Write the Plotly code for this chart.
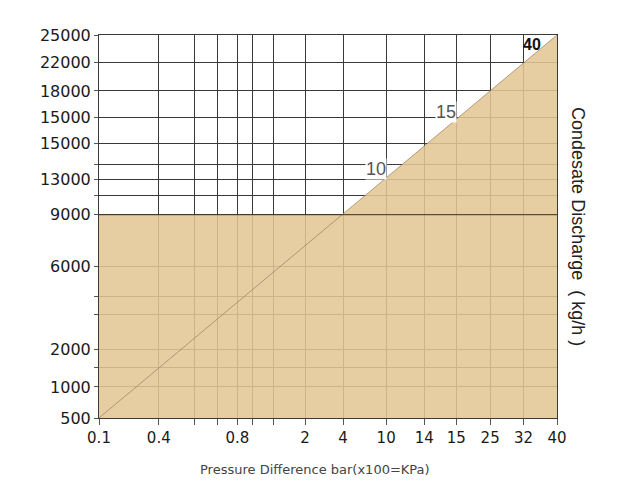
import plotly.graph_objects as go

# x axis: pressure difference (bar), positions on the chart's own scale (0-100)
x_pos = [0, 13.05, 20.8, 25.8, 30.2, 33.5, 38.2, 45.0, 53.3, 62.7, 71.0, 78.0, 85.4, 92.7, 100]
x_labels = ["0.1", "0.4", "", "", "0.8", "", "", "2", "4", "10", "14", "15", "25", "32", "40"]

# y axis: condensate discharge (kg/h)
y_pos = [0, 8.1, 13.3, 17.9, 27.0, 31.6, 39.5, 53.1, 58.2, 62.4, 66.3, 71.7, 78.4, 85.4, 92.9, 100]
y_labels = ["500", "1000", "", "2000", "", "", "6000", "9000", "", "13000", "", "15000",
            "15000", "18000", "22000", "25000"]

# capacity curve (0.1 bar / 500 kg/h  ->  40 bar / 25000 kg/h) and the 9000 kg/h limit
curve_x = [0, 100]
curve_y = [0, 100]
limit_y = 53.1

# orifice labels along the curve
orifice_labels = ["10", "15", "40"]
orifice_x = [60.5, 75.7, 94.5]
orifice_y = [65.0, 80.0, 97.4]

tan = "rgba(226,199,148,0.87)"
grid = "#3a3a3a"

fig = go.Figure()

# shaded area: everything under the curve or under the limit line
fill_x = [curve_x[0], curve_x[0], limit_y, curve_x[1], curve_x[1]]
fill_y = [curve_y[0], limit_y, limit_y, curve_y[1], curve_y[0]]
fig.add_trace(go.Scatter(x=fill_x, y=fill_y, fill="toself", fillcolor=tan,
                         mode="none", hoverinfo="skip", showlegend=False))

fig.add_trace(go.Scatter(x=curve_x, y=curve_y, mode="lines",
                         line=dict(color="rgba(150,125,90,0.7)", width=1),
                         hoverinfo="skip", showlegend=False))

fig.add_trace(go.Scatter(x=[0, 100], y=[limit_y, limit_y], mode="lines",
                         line=dict(color="rgba(60,50,40,0.8)", width=1.2),
                         hoverinfo="skip", showlegend=False))

for i, t in enumerate(orifice_labels):
    last = (t == "40")
    fig.add_annotation(x=orifice_x[i], y=orifice_y[i], text=f"<b>{t}</b>" if last else t,
                       showarrow=False, bgcolor="rgba(0,0,0,0)" if last else "white", borderpad=0,
                       font=dict(family="Liberation Sans", size=16 if last else 18,
                                 color="#111" if last else "#555"))

fig.add_annotation(x=1.073, y=0.50, xref="paper", yref="paper", text="Condesate Discharge  ( kg/h )",
                   textangle=90, showarrow=False,
                   font=dict(family="Liberation Sans", size=18, color="#222"))

fig.add_annotation(x=0.472, y=-0.11, xref="paper", yref="paper", yanchor="top",
                   text="Pressure Difference bar(x100=KPa)", showarrow=False,
                   font=dict(family="DejaVu Sans", size=13, color="#444"))

fig.update_xaxes(range=[0, 100], tickmode="array", tickvals=x_pos, ticktext=x_labels,
                 showgrid=True, gridcolor=grid, gridwidth=1, zeroline=False,
                 showline=True, linecolor=grid, linewidth=1, mirror=True,
                 ticks="outside", ticklen=6, tickcolor="#555", ticklabelstandoff=0,
                 tickfont=dict(family="DejaVu Sans", size=15, color="#1a1a1a"),
                 layer="below traces", fixedrange=True)
fig.update_yaxes(range=[0, 100], tickmode="array", tickvals=y_pos, ticktext=y_labels,
                 showgrid=True, gridcolor=grid, gridwidth=1, zeroline=False,
                 showline=True, linecolor=grid, linewidth=1, mirror=True,
                 ticks="outside", ticklen=4, tickcolor="#555",
                 tickfont=dict(family="DejaVu Sans", size=16, color="#1a1a1a"),
                 layer="below traces", fixedrange=True)

fig.update_layout(width=630, height=493, margin=dict(l=91, r=81, t=27, b=83),
                  plot_bgcolor="white", paper_bgcolor="white", showlegend=False)

fig.write_html("out.html")
